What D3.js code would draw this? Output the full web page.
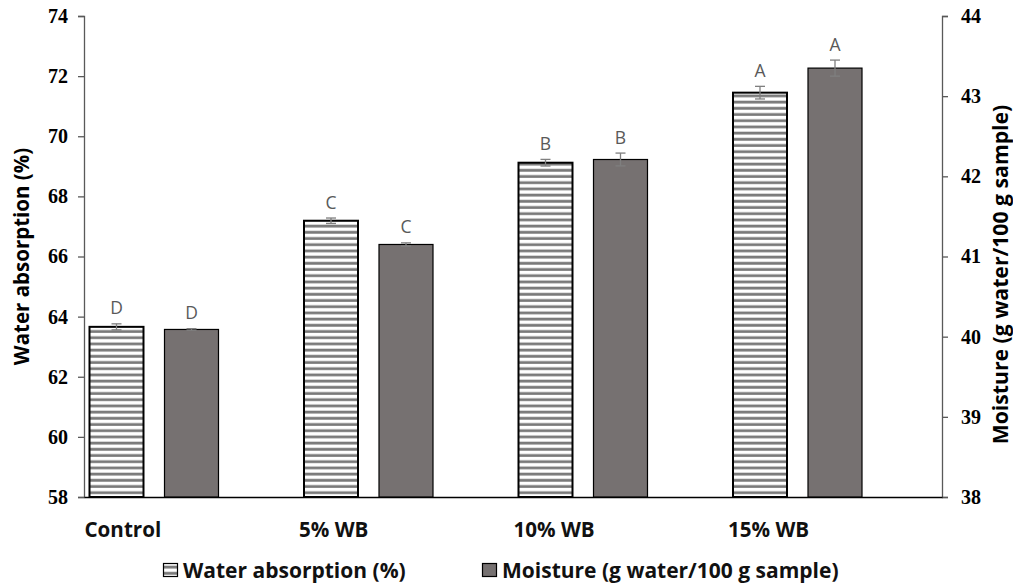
<!DOCTYPE html>
<html>
<head>
<meta charset="utf-8">
<script src="https://cdn.jsdelivr.net/npm/d3@7"></script>
<style>
  body { margin: 0; background: #fff; }
  svg { display: block; }
</style>
</head>
<body>
<svg id="chart" width="1013" height="587"></svg>
<script>
const categories = ["Control", "5% WB", "10% WB", "15% WB"];
const seriesNames = ["Water absorption (%)", "Moisture (g water/100 g sample)"];
const waterAbsorption = [63.66, 67.19, 69.12, 71.45];
const waterAbsorptionErr = [0.1, 0.09, 0.11, 0.21];
const waterAbsorptionLetters = ["D", "C", "B", "A"];
const moisture = [40.09, 41.15, 42.21, 43.35];
const moistureErr = [0.01, 0.02, 0.08, 0.1];
const moistureLetters = ["D", "C", "B", "A"];
const leftTicks = [58, 60, 62, 64, 66, 68, 70, 72, 74];
const rightTicks = [38, 39, 40, 41, 42, 43, 44];

(function () {
const svg = d3.select("#chart");
const pLeft = 84, pRight = 942, pTop = 16, pBottom = 497;

const x = d3.scaleBand().domain(categories).range([pLeft, pRight]).padding(0);
const x1 = d3.scaleBand().domain(seriesNames).range([5.5, 134.5]).paddingInner(0.28).paddingOuter(0);
const yL = d3.scaleLinear().domain([58, 74]).range([pBottom, pTop]);
const yR = d3.scaleLinear().domain([38, 44]).range([pBottom, pTop]);

// pattern
const defs = svg.append("defs");
const pat = defs.append("pattern").attr("id", "stripes").attr("patternUnits", "userSpaceOnUse")
  .attr("width", 8).attr("height", 6.2);
pat.append("rect").attr("width", 8).attr("height", 6.2).attr("fill", "#fff");
pat.append("rect").attr("y", 1.5).attr("width", 8).attr("height", 2.8).attr("fill", "#7a7a7a");

const tickFont = "'Liberation Serif', 'Times New Roman', serif";
const sansFont = "'Open Sans', Lato, sans-serif";

// Left axis
const axL = d3.axisLeft(yL).tickValues(leftTicks).tickSize(6).tickPadding(10).tickFormat(d3.format("d"));
const gL = svg.append("g").attr("transform", `translate(${pLeft},0)`).call(axL);
gL.select(".domain").attr("stroke", "#595959").attr("stroke-width", 1.3);
gL.selectAll(".tick line").attr("stroke", "#595959").attr("stroke-width", 1.3);
gL.selectAll(".tick text").attr("font-family", tickFont).attr("font-weight", "bold").attr("font-size", 20).attr("fill", "#000");

// Right axis
const axR = d3.axisRight(yR).tickValues(rightTicks).tickSize(6).tickPadding(13).tickFormat(d3.format("d"));
const gR = svg.append("g").attr("transform", `translate(${pRight},0)`).call(axR);
gR.select(".domain").attr("stroke", "#595959").attr("stroke-width", 1.3);
gR.selectAll(".tick line").attr("stroke", "#595959").attr("stroke-width", 1.3);
gR.selectAll(".tick text").attr("font-family", tickFont).attr("font-weight", "bold").attr("font-size", 20).attr("fill", "#000");

// Bottom axis line
const axB = d3.axisBottom(x).tickSize(0).tickFormat("");
const gB = svg.append("g").attr("transform", `translate(0,${pBottom})`).call(axB);
gB.select(".domain").attr("stroke", "#000").attr("stroke-width", 1.3);

// Category labels
svg.append("g").selectAll("text").data(categories).join("text")
  .attr("x", d => x(d) + 0.5).attr("y", 537)
  .attr("font-family", sansFont).attr("font-weight", "bold").attr("font-size", 20.6)
  .attr("fill", "#111").text(d => d);

// Bars: Water absorption
svg.append("g").selectAll("rect").data(categories).join("rect")
  .attr("x", d => x(d) + x1(seriesNames[0]))
  .attr("y", (d, i) => yL(waterAbsorption[i]))
  .attr("width", x1.bandwidth())
  .attr("height", (d, i) => yL(58) - yL(waterAbsorption[i]))
  .attr("fill", "url(#stripes)").attr("stroke", "#000").attr("stroke-width", 2);

// Bars: Moisture
svg.append("g").selectAll("rect").data(categories).join("rect")
  .attr("x", d => x(d) + x1(seriesNames[1]))
  .attr("y", (d, i) => yR(moisture[i]))
  .attr("width", x1.bandwidth())
  .attr("height", (d, i) => yR(38) - yR(moisture[i]))
  .attr("fill", "#767171").attr("stroke", "#000").attr("stroke-width", 1.2);

// Error bars
function errorBars(vals, errs, scale, sName, letters) {
  const g = svg.append("g");
  categories.forEach((c, i) => {
    const cx = x(c) + x1(sName) + x1.bandwidth() / 2;
    const y0 = scale(vals[i] + errs[i]), y1 = scale(vals[i] - errs[i]);
    g.append("line").attr("x1", cx).attr("x2", cx).attr("y1", y0).attr("y2", y1)
      .attr("stroke", "#7f7f7f").attr("stroke-width", 1.3);
    [y0, y1].forEach(yy => g.append("line").attr("x1", cx - 5).attr("x2", cx + 5)
      .attr("y1", yy).attr("y2", yy).attr("stroke", "#7f7f7f").attr("stroke-width", 1.3));
    g.append("text").attr("x", cx).attr("y", y0 - 9.5).attr("text-anchor", "middle")
      .attr("font-family", sansFont).attr("font-size", 17.5).attr("fill", "#595959")
      .text(letters[i]);
  });
}
errorBars(waterAbsorption, waterAbsorptionErr, yL, seriesNames[0], waterAbsorptionLetters);
errorBars(moisture, moistureErr, yR, seriesNames[1], moistureLetters);

// Axis titles
svg.append("text").attr("transform", `translate(29,${(pTop + pBottom) / 2}) rotate(-90)`)
  .attr("text-anchor", "middle").attr("font-family", sansFont).attr("font-weight", "bold")
  .attr("font-size", 20.5).attr("fill", "#000").text("Water absorption (%)");
svg.append("text").attr("transform", `translate(1008,274.5) rotate(-90)`)
  .attr("text-anchor", "middle").attr("font-family", sansFont).attr("font-weight", "bold")
  .attr("font-size", 21.2).attr("fill", "#000").text("Moisture (g water/100 g sample)");

// Legend
const leg = svg.append("g");
const legX = [163, 482];
seriesNames.forEach((s, i) => {
  leg.append("rect").attr("x", legX[i] + 0.5).attr("y", 563.5).attr("width", 14).attr("height", 13)
    .attr("fill", i === 0 ? "url(#stripes)" : "#767171").attr("stroke", "#000").attr("stroke-width", 1.2);
  leg.append("text").attr("x", legX[i] + 20).attr("y", 578)
    .attr("font-family", sansFont).attr("font-weight", "bold").attr("font-size", 21)
    .attr("fill", "#111").text(s);
});
})();
</script>
</body>
</html>
